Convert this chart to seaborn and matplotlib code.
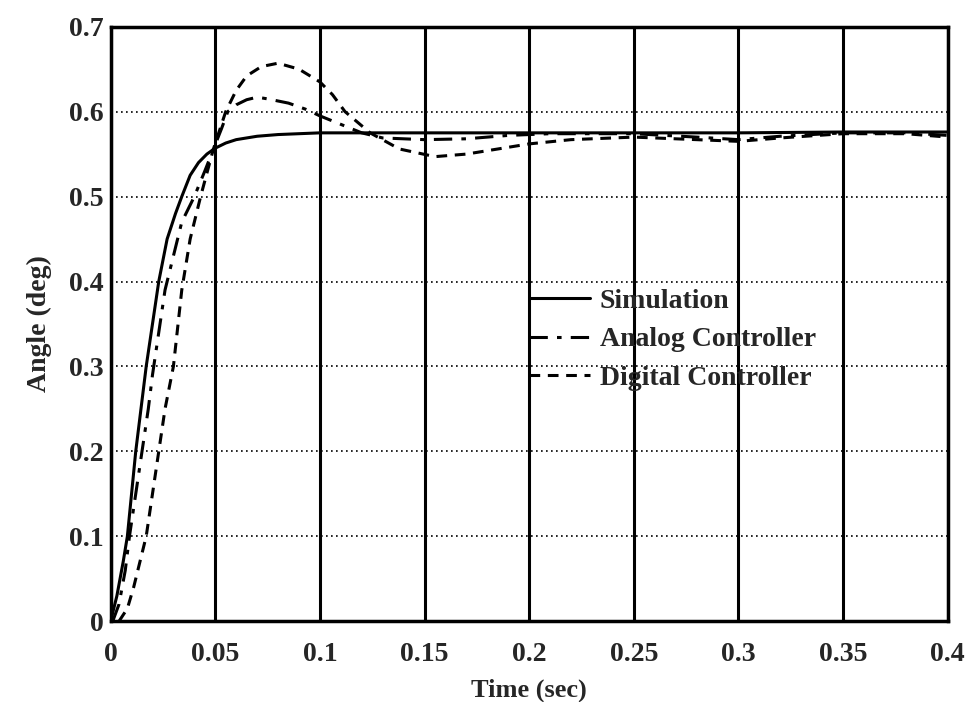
import pandas as pd
import numpy as np
import matplotlib
matplotlib.use("Agg")
import matplotlib.pyplot as plt
import seaborn as sns

sns.set_style("white")
plt.rcParams["font.family"] = ["Liberation Serif", "DejaVu Serif"]
plt.rcParams["font.weight"] = "bold"

# values
t_sim = [0, 0.003, 0.006, 0.008, 0.010, 0.012, 0.015, 0.017, 0.020, 0.023, 0.027,
         0.031, 0.034, 0.038, 0.042, 0.046, 0.05, 0.055, 0.06, 0.07, 0.08, 0.1,
         0.15, 0.2, 0.25, 0.3, 0.35, 0.4]
y_sim = [0, 0.03, 0.07, 0.10, 0.15, 0.20, 0.26, 0.30, 0.35, 0.40, 0.45,
         0.48, 0.50, 0.525, 0.54, 0.55, 0.557, 0.563, 0.567, 0.571, 0.573, 0.575,
         0.575, 0.575, 0.575, 0.575, 0.576, 0.576]

t_ana = [0.001, 0.004, 0.007, 0.009, 0.012, 0.015, 0.018, 0.020, 0.023, 0.026, 0.030,
         0.034, 0.040, 0.045, 0.049, 0.053, 0.056, 0.06, 0.065, 0.07, 0.075, 0.085,
         0.093, 0.1, 0.11, 0.12, 0.13, 0.15, 0.17, 0.19, 0.21, 0.25, 0.28, 0.3,
         0.32, 0.35, 0.38, 0.4]
y_ana = [0, 0.02, 0.06, 0.10, 0.15, 0.20, 0.25, 0.29, 0.34, 0.39, 0.43,
         0.47, 0.50, 0.53, 0.555, 0.58, 0.60, 0.608, 0.614, 0.617, 0.615, 0.61,
         0.603, 0.595, 0.585, 0.575, 0.569, 0.567, 0.568, 0.572, 0.574, 0.574, 0.57, 0.567,
         0.571, 0.575, 0.575, 0.572]

t_dig = [0.004, 0.008, 0.011, 0.014, 0.017, 0.020, 0.023, 0.026, 0.030, 0.034, 0.038,
         0.043, 0.049, 0.055, 0.06, 0.065, 0.072, 0.08, 0.09, 0.1, 0.106, 0.112,
         0.124, 0.138, 0.155, 0.17, 0.185, 0.2, 0.22, 0.25, 0.28, 0.3, 0.32, 0.35,
         0.38, 0.4]
y_dig = [0, 0.015, 0.04, 0.07, 0.10, 0.15, 0.20, 0.25, 0.30, 0.39, 0.45,
         0.50, 0.555, 0.60, 0.625, 0.642, 0.653, 0.657, 0.65, 0.635, 0.62, 0.60,
         0.575, 0.556, 0.547, 0.55, 0.556, 0.562, 0.567, 0.57, 0.567, 0.565, 0.569, 0.574,
         0.574, 0.57]

x_ticks = [0, 0.05, 0.1, 0.15, 0.2, 0.25, 0.3, 0.35, 0.4]
x_labels = ["0", "0.05", "0.1", "0.15", "0.2", "0.25", "0.3", "0.35", "0.4"]
y_ticks = [0, 0.1, 0.2, 0.3, 0.4, 0.5, 0.6, 0.7]
y_labels = ["0", "0.1", "0.2", "0.3", "0.4", "0.5", "0.6", "0.7"]

fig, ax = plt.subplots(figsize=(9.79, 7.02), dpi=100)
fig.subplots_adjust(left=0.113, right=0.968, top=0.962, bottom=0.115)

sns.lineplot(x=t_sim, y=y_sim, ax=ax, color="black", lw=2.2, sort=False,
             label="Simulation")
sns.lineplot(x=t_ana, y=y_ana, ax=ax, color="black", lw=2.2, sort=False,
             linestyle=(0, (6, 3, 1.5, 3)), label="Analog Controller")
sns.lineplot(x=t_dig, y=y_dig, ax=ax, color="black", lw=2.2, sort=False,
             linestyle=(0, (3.5, 2.5)), label="Digital Controller")

ax.set_xlim(0, 0.4)
ax.set_ylim(0, 0.7)
ax.set_xticks(x_ticks)
ax.set_xticklabels(x_labels)
ax.set_yticks(y_ticks)
ax.set_yticklabels(y_labels)
ax.tick_params(axis="both", labelsize=20, length=0)
ax.tick_params(axis="x", pad=15)
ax.tick_params(axis="y", pad=5)

# vertical grid solid, horizontal grid dotted (as in the scan)
ax.xaxis.grid(True, color="black", lw=2.2, ls="-")
ax.yaxis.grid(True, color="black", lw=1.2, ls=(0, (1, 2)))
ax.set_axisbelow(True)
for s in ax.spines.values():
    s.set_color("black")
    s.set_linewidth(2.5)

ax.set_xlabel("Time (sec)", fontsize=19, fontweight="bold", labelpad=8)
ax.set_ylabel("Angle (deg)", fontsize=20, fontweight="bold", labelpad=12)

leg = ax.legend(loc="upper left", bbox_to_anchor=(0.5, 0.56), frameon=False,
                fontsize=20, handlelength=2.2, handletextpad=0.35,
                labelspacing=0.47, borderaxespad=0, borderpad=0)

fig.savefig("out.png", dpi=100)
